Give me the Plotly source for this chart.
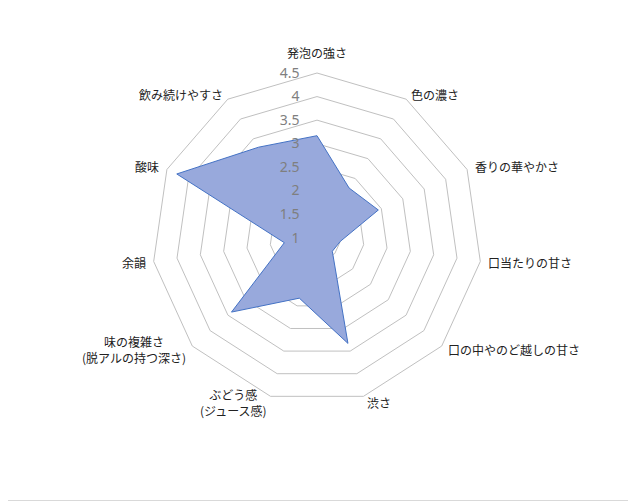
import math
import plotly.graph_objects as go

categories = [
    "発泡の強さ", "色の濃さ", "香りの華やかさ", "口当たりの甘さ",
    "口の中やのど越しの甘さ", "渋さ", "ぶどう感<br>(ジュース感)",
    "味の複雑さ<br>(脱アルの持つ深さ)", "余韻", "酸味", "飲み続けやすさ",
]
scores = [3.17, 2.26, 2.43, 1.5, 1.43, 3.33, 2.33, 3.4, 1.7, 4.27, 3.29]
tick_vals = [1, 1.5, 2, 2.5, 3, 3.5, 4, 4.5]
tick_text = ["1", "1.5", "2", "2.5", "3", "3.5", "4", "4.5"]

# page body has an 8px margin, so the figure is drawn 8px in from the window edge
off = 8
W, H = 636 - off, 501 - off
cx, cy, R = 317 - off, 238 - off, 165


def to_paper(px, py):
    return px / W, 1 - py / H


fig = go.Figure()
fig.add_trace(go.Scatterpolar(
    r=scores + scores[:1],
    theta=categories + categories[:1],
    mode="lines",
    fill="toself",
    fillcolor="#98A9DC",
    line=dict(color="#4472C4", width=1),
    hoverinfo="r+theta",
))

# category labels placed just outside each corner, like Excel does
annotations = []
gap = 6
for i, name in enumerate(categories):
    a = 2 * math.pi * i / len(categories)
    s, c = math.sin(a), math.cos(a)
    x, y = to_paper(cx + (R + gap) * s, cy - (R + gap) * c)
    xa = "left" if s > 0.2 else ("right" if s < -0.2 else "center")
    ya = "bottom" if c > 0.95 else "middle"
    annotations.append(dict(
        x=x, y=y, xref="paper", yref="paper", text=name, showarrow=False,
        xanchor=xa, yanchor=ya, align="center", yshift=4 if ya == "bottom" else 0,
        font=dict(size=12, color="#222"),
    ))

fig.update_layout(
    width=W, height=H,
    margin=dict(l=0, r=0, t=0, b=0),
    paper_bgcolor="white",
    showlegend=False,
    font=dict(family="Noto Sans CJK JP", size=12, color="#222"),
    polar=dict(
        domain=dict(x=[(cx - R) / W, (cx + R) / W],
                    y=[(H - cy - R) / H, (H - cy + R) / H]),
        bgcolor="white",
        gridshape="linear",
        radialaxis=dict(
            range=[1, 4.5],
            tickvals=tick_vals,
            ticktext=tick_text,
            angle=90,
            side="counterclockwise",
            tickangle=90,
            showline=False,
            ticks="outside",
            ticklen=12,
            tickcolor="rgba(0,0,0,0)",
            gridcolor="#C0C0C0",
            gridwidth=1,
            tickfont=dict(size=14, color="#7F7F7F", family="Noto Sans"),
        ),
        angularaxis=dict(
            direction="clockwise",
            rotation=90,
            showgrid=False,
            showticklabels=False,
            linecolor="#C0C0C0",
            linewidth=1,
            ticks="",
        ),
    ),
    annotations=annotations,
    shapes=[
        dict(type="line", xref="paper", yref="paper", x0=(W - 1) / W, x1=(W - 1) / W,
             y0=0, y1=1, line=dict(color="#D9D9D9", width=3)),
        dict(type="line", xref="paper", yref="paper", x0=0, x1=1, y0=0, y1=0,
             line=dict(color="#D9D9D9", width=2)),
    ],
)

fig.write_html("out.html")
